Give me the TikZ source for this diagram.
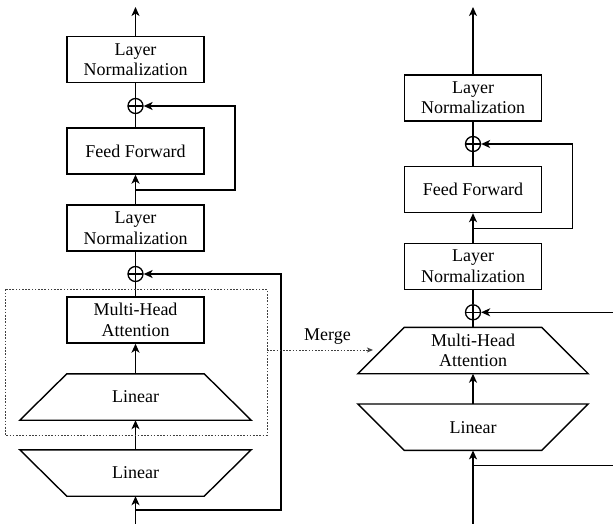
\documentclass[tikz,border=0pt]{standalone}
\usepackage{fontspec}
\setmainfont{Liberation Serif}
\usetikzlibrary{arrows.meta,calc}
\tikzset{
  box/.style={draw, line width=1.4pt, minimum width=137pt, minimum height=46pt, inner sep=0pt, align=center, font=\fontsize{18}{20.5}\selectfont},
  tbox/.style={minimum width=137pt, minimum height=46pt, inner sep=0pt, align=center, font=\fontsize{18}{20.5}\selectfont},
  trap/.style={line width=1.4pt},
  addc/.style={draw, circle, line width=1.3pt, minimum size=15pt, inner sep=0pt, path picture={\draw[line width=1.3pt] (path picture bounding box.north) -- (path picture bounding box.south) (path picture bounding box.west) -- (path picture bounding box.east);}},
  conn/.style={line width=1.4pt},
  arr/.style={conn, -{Stealth[length=9pt,width=8pt,inset=2.5pt]}},
  dotbox/.style={draw=black!75, line width=1pt, dash pattern=on 1.6pt off 1.6pt},
  mergearr/.style={draw=black!75, line width=1pt, dash pattern=on 1.6pt off 1.6pt, -{Stealth[length=6pt,width=5pt,inset=1.5pt]}},
  lbl/.style={font=\fontsize{18}{20.5}\selectfont, inner sep=0pt}
}
\begin{document}
\begin{tikzpicture}[x=1pt,y=-1pt]
\useasboundingbox (0,0) rectangle (613,524);
% ---------- left column ----------
\node[box] (lln1) at (135.5,59.5) {Layer\\Normalization};
\node[addc] (lad1) at (135.5,106) {};
\node[box] (lff) at (135.5,151) {Feed Forward};
\node[box] (lln2) at (135.5,228) {Layer\\Normalization};
\node[addc] (lad2) at (135.5,274) {};
\node[box] (lmha) at (135.5,320) {Multi-Head\\Attention};
\node[tbox] (llin1) at (135.5,397) {Linear};
\draw[trap] (llin1.north west) -- (llin1.north east) -- ($(llin1.south east)+(47,0)$) -- ($(llin1.south west)+(-47,0)$) -- cycle;
\node[tbox] (llin2) at (135.5,473) {Linear};
\draw[trap] ($(llin2.north west)+(-47,0)$) -- ($(llin2.north east)+(47,0)$) -- (llin2.south east) -- (llin2.south west) -- cycle;
\coordinate (ltop) at (135.5,7);
\coordinate (lbot) at (135.5,524);
\coordinate (lbr) at (135.5,510);
\coordinate (ljf) at (135.5,190);
\draw[arr] (lln1.north) -- (ltop);
\draw[conn] (lad1) -- (lln1.south);
\draw[conn] (lff.north) -- (lad1);
\draw[arr] (lln2.north) -- (lff.south);
\draw[arr] (ljf) -- (235,190) -- (235,106) -- (lad1.east);
\draw[conn] (lad2) -- (lln2.south);
\draw[conn] (lmha.north) -- (lad2);
\draw[arr] (llin1.north) -- (lmha.south);
\draw[arr] (llin2.north) -- (llin1.south);
\draw[arr] (lbot) -- (llin2.south);
\draw[arr] (lbr) -- (281,510) -- (281,274) -- (lad2.east);
\draw[dotbox] (5,289.3) rectangle (267,435);
\coordinate (mfrom) at (267,350);
% ---------- right column ----------
\node[box] (rln1) at (473,97.9) {Layer\\Normalization};
\node[addc] (rad1) at (473,144) {};
\node[box] (rff) at (473,189.5) {Feed Forward};
\node[box] (rln2) at (473,266.3) {Layer\\Normalization};
\node[addc] (rad2) at (473,312.3) {};
\node[tbox] (rmha) at (473,350.5) {Multi-Head\\Attention};
\draw[trap] (rmha.north west) -- (rmha.north east) -- ($(rmha.south east)+(46.5,0)$) -- ($(rmha.south west)+(-46.5,0)$) -- cycle;
\node[tbox] (rlin) at (473,427.2) {Linear};
\draw[trap] ($(rlin.north west)+(-46.5,0)$) -- ($(rlin.north east)+(46.5,0)$) -- (rlin.south east) -- (rlin.south west) -- cycle;
\coordinate (rtop) at (473,7);
\coordinate (rbot) at (473,524);
\coordinate (rbr) at (473,465.7);
\coordinate (rjf) at (473,228.3);
\coordinate (rres) at (613,312.3);
\coordinate (rbrend) at (613,465.7);
\draw[arr] (rln1.north) -- (rtop);
\draw[conn] (rad1) -- (rln1.south);
\draw[conn] (rff.north) -- (rad1);
\draw[arr] (rln2.north) -- (rff.south);
\draw[arr] (rjf) -- (572.7,228.3) -- (572.7,144) -- (rad1.east);
\draw[conn] (rad2) -- (rln2.south);
\draw[conn] (rmha.north) -- (rad2);
\draw[arr] (rres) -- (rad2.east);
\draw[arr] (rlin.north) -- (rmha.south);
\draw[arr] (rbot) -- (rlin.south);
\draw[conn] (rbr) -- (rbrend);
% ---------- merge ----------
\coordinate (mto) at (373,350);
\draw[mergearr] (mfrom) -- (mto);
\node[lbl] (mlbl) at (327.5,337) {Merge};
\end{tikzpicture}
\end{document}
